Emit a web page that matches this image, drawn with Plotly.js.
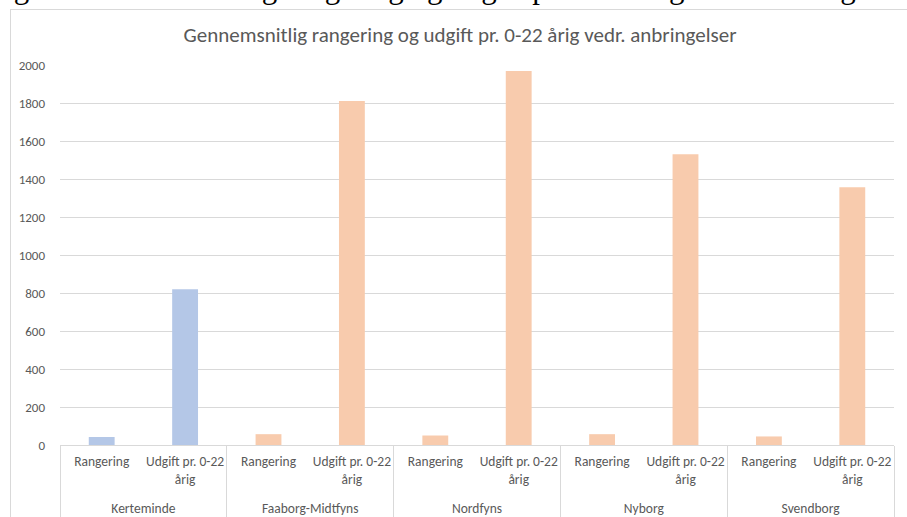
<!DOCTYPE html>
<html>
<head>
<meta charset="utf-8">
<script src="https://cdn.plot.ly/plotly-3.0.1.min.js"></script>
<style>
  html, body { margin: 0; padding: 0; background: #ffffff; overflow: hidden; }
  #frame { position: absolute; left: 10px; top: 9px; width: 940px; height: 560px;
           border: 1px solid #d9d9d9; box-sizing: border-box; pointer-events: none; }
  #caption { position: absolute; left: -12px; top: -28px; white-space: nowrap;
             font-family: "Liberation Serif", "DejaVu Serif", serif;
             font-size: 31px; color: #000; line-height: 32px; }
  #chart { position: absolute; left: 0; top: 0; width: 907px; height: 517px; }
</style>
</head>
<body>
<div id="caption">Figur 7: Gennemsnitlig rangering og udgift pr. 0-22 årig vedr. anbringelser</div>
<div id="frame"></div>
<div id="chart"></div>
<script>
const municipalities = ['Kerteminde', 'Faaborg-Midtfyns', 'Nordfyns', 'Nyborg', 'Svendborg'];
const measures = ['Rangering<br>\u00a0<br><span style="font-size:5px">\u00a0</span>',
                  'Udgift pr. 0-22<br>årig<br><span style="font-size:5px">\u00a0</span>'];
const rangering = [42, 57, 50, 57, 45];
const udgift = [820, 1810, 1968, 1530, 1356];
const highlightColor = '#B4C7E7';
const otherColor = '#F8CBAD';

const groupCats = [];
const subCats = [];
const values = [];
const colors = [];
municipalities.forEach(function (m, i) {
  [rangering[i], udgift[i]].forEach(function (v, j) {
    groupCats.push(m);
    subCats.push(measures[j]);
    values.push(v);
    colors.push(i === 0 ? highlightColor : otherColor);
  });
});

const trace = {
  type: 'bar',
  x: [groupCats, subCats],
  y: values,
  width: 0.31,
  marker: { color: colors, line: { width: 0 } },
  hoverinfo: 'x+y'
};

const font = 'Carlito, Lato, "Open Sans", sans-serif';
const layout = {
  width: 907,
  height: 517,
  margin: { l: 60, r: 13, t: 65, b: 72 },
  paper_bgcolor: 'rgba(0,0,0,0)',
  plot_bgcolor: 'rgba(0,0,0,0)',
  showlegend: false,
  font: { family: font, color: '#595959', size: 13 },
  title: {
    text: 'Gennemsnitlig rangering og udgift pr. 0-22 årig vedr. anbringelser',
    font: { family: font, size: 21, color: '#595959' },
    x: 460 / 907, xanchor: 'center', xref: 'container',
    y: 1 - 35 / 517, yanchor: 'middle', yref: 'container'
  },
  xaxis: {
    type: 'multicategory',
    showline: true,
    linecolor: '#d9d9d9',
    linewidth: 1,
    showgrid: false,
    zeroline: false,
    ticks: '',
    tickangle: 0,
    ticklabelstandoff: 4,
    showdividers: true,
    dividercolor: '#d9d9d9',
    dividerwidth: 1,
    tickfont: { family: font, size: 13.5, color: '#595959' }
  },
  yaxis: {
    range: [0, 2000],
    dtick: 200,
    showline: false,
    showgrid: true,
    gridcolor: '#d9d9d9',
    gridwidth: 1,
    zeroline: false,
    ticks: '',
    ticklabelstandoff: 14,
    tickfont: { family: font, size: 13, color: '#595959' }
  },
  bargap: 0.69
};

Plotly.newPlot('chart', [trace], layout, { displayModeBar: false, staticPlot: true });
</script>
</body>
</html>
